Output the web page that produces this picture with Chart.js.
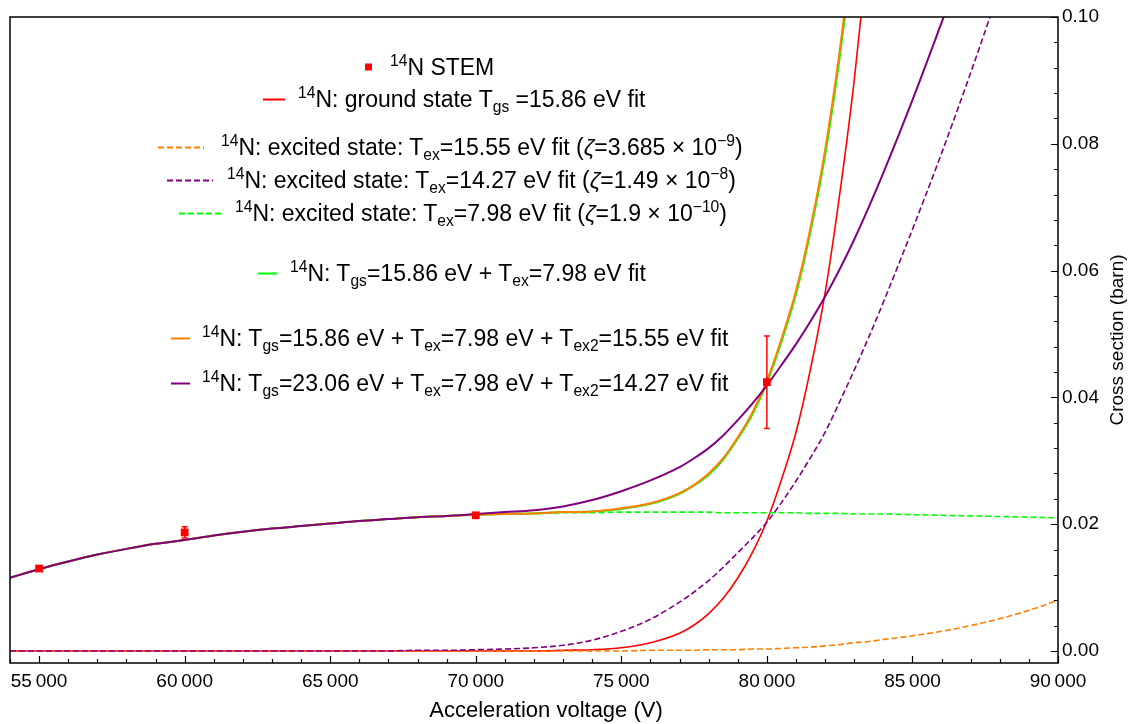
<!DOCTYPE html>
<html>
<head>
<meta charset="utf-8">
<script src="https://cdn.jsdelivr.net/npm/chart.js@4.4.1/dist/chart.umd.min.js"></script>
<style>
    body { margin: 0; background: #fff; }
    #wrap { position: relative; width: 1133px; height: 724px; }
    .row {
        position: absolute; display: flex; align-items: center;
        transform: translateY(-50%); white-space: nowrap;
        font: 23px "Liberation Sans", Arial, sans-serif; color: #000;
    }
    .sw { display: inline-block; height: 2px; }
    .mk { display: inline-block; width: 7px; height: 7px; background: #ff0000; }
    sup, sub { font-size: 0.68em; line-height: 0; position: relative; vertical-align: baseline; }
    sup { top: -0.6em; }
    sub { top: 0.3em; }
</style>
</head>
<body>
<div id="wrap">
    <canvas id="myChart" width="1133" height="724"></canvas>

    <div class="row" style="left:365px;top:67px"><span class="mk" style="margin-right:18px"></span><span><sup>14</sup>N STEM</span></div>
    <div class="row" style="left:263px;top:99px"><span class="sw" style="width:22px;background:#ff0000;margin-right:13px"></span><span><sup>14</sup>N: ground state T<sub>gs</sub> =15.86 eV fit</span></div>
    <div class="row" style="left:158px;top:147px"><span class="sw" style="width:46px;background:repeating-linear-gradient(90deg,#ff8000 0 6px,transparent 6px 9px);margin-right:17px"></span><span><sup>14</sup>N: excited state: T<sub>ex</sub>=15.55 eV fit (<i>ζ</i>=3.685 × 10<sup>−9</sup>)</span></div>
    <div class="row" style="left:167px;top:180px"><span class="sw" style="width:46px;background:repeating-linear-gradient(90deg,#800080 0 6px,transparent 6px 9px);margin-right:14px"></span><span><sup>14</sup>N: excited state: T<sub>ex</sub>=14.27 eV fit (<i>ζ</i>=1.49 × 10<sup>−8</sup>)</span></div>
    <div class="row" style="left:179px;top:213px"><span class="sw" style="width:42px;background:repeating-linear-gradient(90deg,#00ff00 0 6px,transparent 6px 9px);margin-right:14px"></span><span><sup>14</sup>N: excited state: T<sub>ex</sub>=7.98 eV fit (<i>ζ</i>=1.9 × 10<sup>−10</sup>)</span></div>
    <div class="row" style="left:258px;top:273px"><span class="sw" style="width:19px;background:#00ff00;margin-right:13px"></span><span><sup>14</sup>N: T<sub>gs</sub>=15.86 eV + T<sub>ex</sub>=7.98 eV fit</span></div>
    <div class="row" style="left:171px;top:338px"><span class="sw" style="width:19px;background:#ff8000;margin-right:12px"></span><span><sup>14</sup>N: T<sub>gs</sub>=15.86 eV + T<sub>ex</sub>=7.98 eV + T<sub>ex2</sub>=15.55 eV fit</span></div>
    <div class="row" style="left:171px;top:383px"><span class="sw" style="width:19px;background:#800080;margin-right:12px"></span><span><sup>14</sup>N: T<sub>gs</sub>=23.06 eV + T<sub>ex</sub>=7.98 eV + T<sub>ex2</sub>=14.27 eV fit</span></div>
</div>

<script>
// tensiones de aceleracion (V) donde se leen las curvas
var voltage = [54000, 55000, 56000, 57000, 58000, 59000, 60000, 61000, 62000, 63000,
    64000, 65000, 66000, 67000, 68000, 69000, 70000, 71000, 72000, 73000,
    74000, 75000, 76000, 77000, 77500, 78000, 78500, 79000, 79500, 80000,
    80500, 81000, 81500, 82000, 82500, 83000, 83500, 84000, 85000, 86000,
    87000, 88000, 89000, 90000];

// puntos medidos STEM
var stemVoltage = [55000, 60000, 70000, 80000];
var stemCross = [0.0130, 0.0187, 0.0214, 0.0424];
var stemError = [0.0003, 0.0009, 0.0003, 0.0073];

// estado base Tgs=15.86 eV
var groundState = [0, 0, 0, 0, 0, 0, 0, 0, 0, 0,
    0, 0, 0, 0, 0, 0, 0, 0, 0, 0.0001,
    0.0002, 0.0005, 0.0013, 0.0028, 0.0041, 0.0059, 0.0083, 0.0115, 0.0155, 0.0205,
    0.0270, 0.0345, 0.0445, 0.0565, 0.0720, 0.0900, 0.1120, null, null, null,
    null, null, null, null];

// estado excitado Tex=15.55 eV
var excited1555 = [0, 0, 0, 0, 0, 0, 0, 0, 0, 0,
    0, 0, 0, 0, 0, 0, 0, 0, 0, 0,
    0, 0, 0.0001, 0.0001, 0.0001, 0.0002, 0.0002, 0.0002, 0.0003, 0.0003,
    0.0004, 0.0005, 0.0006, 0.0008, 0.0010, 0.0013, 0.0015, 0.0018, 0.0024, 0.0031,
    0.0040, 0.0051, 0.0064, 0.0080];

// estado excitado Tex=14.27 eV
var excited1427 = [0, 0, 0, 0, 0, 0, 0, 0, 0, 0,
    0, 0, 0, 0, 0.0001, 0.0001, 0.0002, 0.0003, 0.0005, 0.0009,
    0.0017, 0.0031, 0.0050, 0.0077, 0.0093, 0.0111, 0.0132, 0.0155, 0.0178, 0.0203,
    0.0234, 0.0268, 0.0305, 0.0345, 0.0393, 0.0443, 0.0495, 0.0550, 0.0665, 0.0785,
    0.0912, 0.1045, null, null];

// estado excitado Tex=7.98 eV
var excited798 = [0.01155, 0.0129, 0.0141, 0.0152, 0.0161, 0.0169, 0.0175, 0.0182, 0.0188, 0.0193,
    0.0197, 0.0201, 0.0205, 0.0208, 0.0211, 0.0213, 0.0215, 0.0216, 0.0217, 0.0218,
    0.0218, 0.0219, 0.0219, 0.0219, 0.0219, 0.0219, 0.0218, 0.0218, 0.0218, 0.0218,
    0.0218, 0.0218, 0.0217, 0.0217, 0.0217, 0.0216, 0.0216, 0.0216, 0.0215, 0.0214,
    0.0213, 0.0212, 0.0211, 0.0210];

// Tgs=15.86 + Tex=7.98
var gsEx = [0.01155, 0.0129, 0.0141, 0.0152, 0.0161, 0.0169, 0.0175, 0.0182, 0.0188, 0.0193,
    0.0197, 0.0201, 0.0205, 0.0208, 0.0211, 0.0213, 0.0215, 0.0216, 0.0217, 0.0219,
    0.0220, 0.0224, 0.0232, 0.0248, 0.0261, 0.0278, 0.0302, 0.0335, 0.0373, 0.0423,
    0.0488, 0.0563, 0.0662, 0.0782, 0.0936, 0.1116, null, null, null, null,
    null, null, null, null];

// Tgs=15.86 + Tex=7.98 + Tex2=15.55
var gsExEx2 = [0.01155, 0.0129, 0.0141, 0.0152, 0.0161, 0.0169, 0.0175, 0.0182, 0.0188, 0.0193,
    0.0197, 0.0201, 0.0205, 0.0208, 0.0211, 0.0213, 0.0215, 0.0216, 0.0217, 0.0219,
    0.0220, 0.0225, 0.0233, 0.0249, 0.0262, 0.0280, 0.0304, 0.0337, 0.0376, 0.0426,
    0.0492, 0.0568, 0.0668, 0.0790, 0.0946, 0.1129, null, null, null, null,
    null, null, null, null];

// Tgs=23.06 + Tex=7.98 + Tex2=14.27
var gs2306ExEx2 = [0.01155, 0.0129, 0.0141, 0.0152, 0.0161, 0.0169, 0.0175, 0.0182, 0.0188, 0.0193,
    0.0197, 0.0201, 0.0205, 0.0208, 0.0211, 0.0213, 0.0216, 0.0219, 0.0222, 0.0228,
    0.0238, 0.0252, 0.0269, 0.0290, 0.0304, 0.0320, 0.0340, 0.0364, 0.0390, 0.0419,
    0.0451, 0.0484, 0.0520, 0.0559, 0.0602, 0.0649, 0.0700, 0.0754, 0.0869, 0.0991,
    0.1115, null, null, null];

var xTickValues = [55000, 60000, 65000, 70000, 75000, 80000, 85000, 90000];
var yTickValues = [0, 0.02, 0.04, 0.06, 0.08, 0.10];

var FONT = '"Liberation Sans", Arial, sans-serif';

var puntos = function (arr) {
    return voltage.map(function (v, i) { return { x: v, y: arr[i] }; });
}

var curva = function (label, arr, color, dashed, width) {
    return {
        label: label,
        data: puntos(arr),
        borderColor: color,
        backgroundColor: color,
        borderWidth: width || 1.6,
        borderDash: dashed ? [6, 3] : [],
        pointRadius: 0,
        cubicInterpolationMode: 'monotone',
        spanGaps: false
    };
}

// marco, marcas de escala hacia adentro, barras de error y titulos
var marco = {
    id: 'marco',
    afterDatasetsDraw: function (chart) {
        var ctx = chart.ctx, x = chart.scales.x, y = chart.scales.y;
        ctx.save();
        ctx.strokeStyle = '#ff0000';
        ctx.lineWidth = 1.5;
        stemVoltage.forEach(function (v, i) {
            var px = x.getPixelForValue(v);
            var top = y.getPixelForValue(stemCross[i] + stemError[i]);
            var bot = y.getPixelForValue(stemCross[i] - stemError[i]);
            ctx.beginPath();
            ctx.moveTo(px, top); ctx.lineTo(px, bot);
            ctx.moveTo(px - 3, top); ctx.lineTo(px + 3, top);
            ctx.moveTo(px - 3, bot); ctx.lineTo(px + 3, bot);
            ctx.stroke();
        });
        ctx.restore();
    },
    afterDraw: function (chart) {
        var ctx = chart.ctx, a = chart.chartArea, x = chart.scales.x, y = chart.scales.y;
        ctx.save();
        ctx.strokeStyle = '#000';
        ctx.lineWidth = 1.5;
        ctx.strokeRect(a.left, a.top, a.right - a.left, a.bottom - a.top);
        ctx.lineWidth = 1.2;
        ctx.beginPath();
        for (var v = 54000; v <= 90000; v += 1000) {
            var px = Math.round(x.getPixelForValue(v)) + 0.5;
            var len = v % 5000 === 0 ? 7 : 4;
            ctx.moveTo(px, a.bottom); ctx.lineTo(px, a.bottom - len);
        }
        for (var k = 0; k <= 25; k++) {
            var py = Math.round(y.getPixelForValue(k * 0.004)) + 0.5;
            var l = k % 5 === 0 ? 7 : 4;
            ctx.moveTo(a.right, py); ctx.lineTo(a.right - l, py);
        }
        ctx.stroke();

        ctx.fillStyle = '#000';
        ctx.textAlign = 'center';
        ctx.textBaseline = 'middle';
        ctx.font = '22px ' + FONT;
        ctx.fillText('Acceleration voltage (V)', 546, 711);
        ctx.translate(1118, (a.top + a.bottom) / 2);
        ctx.rotate(-Math.PI / 2);
        ctx.font = '19px ' + FONT;
        ctx.fillText('Cross section (barn)', 0, 0);
        ctx.restore();
    }
};

Chart.defaults.font.family = FONT;
Chart.defaults.color = '#000';

var ctx = document.getElementById('myChart');
var myChart = new Chart(ctx, {
    type: 'line',
    data: {
        datasets: [
            {
                label: '14N STEM',
                data: stemVoltage.map(function (v, i) { return { x: v, y: stemCross[i] }; }),
                showLine: false,
                pointStyle: 'rect',
                pointRadius: 5.5,
                backgroundColor: '#ff0000',
                borderColor: '#ff0000',
                borderWidth: 0
            },
            curva('Tgs=23.06 + Tex + Tex2', gs2306ExEx2, '#800080', false, 2),
            curva('Tgs + Tex + Tex2', gsExEx2, '#ff8000', false, 2),
            curva('Tgs + Tex', gsEx, '#00ff00', false, 2),
            curva('excited 7.98', excited798, '#00ff00', true),
            curva('excited 14.27', excited1427, '#800080', true),
            curva('excited 15.55', excited1555, '#ff8000', true),
            curva('ground state', groundState, '#ff0000', false)
        ]
    },
    plugins: [marco],
    options: {
        responsive: false,
        devicePixelRatio: 1,
        animation: false,
        layout: { padding: { left: 10, top: 17, right: 0, bottom: 0 } },
        plugins: {
            legend: { display: false },
            tooltip: { enabled: false }
        },
        scales: {
            x: {
                type: 'linear',
                min: 54000,
                max: 90000,
                grid: { display: false, drawTicks: false },
                border: { display: false },
                afterBuildTicks: function (scale) {
                    scale.ticks = xTickValues.map(function (v) { return { value: v }; });
                },
                afterFit: function (scale) { scale.height = 61; },
                ticks: {
                    maxRotation: 0,
                    autoSkip: false,
                    padding: 7,
                    font: { size: 19 },
                    callback: function (value) {
                        var s = String(value);
                        return s.slice(0, s.length - 3) + '\u2009' + s.slice(-3);
                    }
                }
            },
            y: {
                position: 'right',
                min: -0.0019,
                max: 0.1,
                grid: { display: false, drawTicks: false },
                border: { display: false },
                afterBuildTicks: function (scale) {
                    scale.ticks = yTickValues.map(function (v) { return { value: v }; });
                },
                afterFit: function (scale) { scale.width = 75; },
                ticks: {
                    padding: 4,
                    font: { size: 19 },
                    callback: function (value) { return Number(value).toFixed(2); }
                }
            }
        }
    }
});
</script>
</body>
</html>
